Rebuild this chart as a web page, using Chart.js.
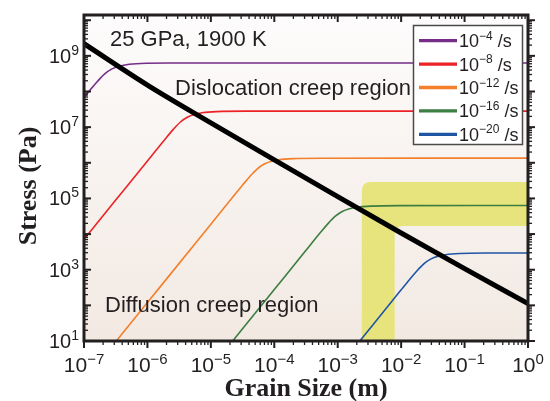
<!DOCTYPE html>
<html><head><meta charset="utf-8">
<script src="https://cdn.jsdelivr.net/npm/chart.js@4/dist/chart.umd.min.js"></script>
<style>html,body{margin:0;padding:0;background:#fff}</style>
</head><body>
<canvas id="c" width="550" height="401"></canvas>
<script>
// ---- data ----
const rateExps = ['−4', '−8', '−12', '−16', '−20'];   // strain rates 10^x /s

const purpleX = [1e-7, 1.259e-7, 1.637e-7, 2.123e-7, 2.761e-7, 3.589e-7, 4.656e-7, 7.87e-7, 2.244e-6, 1];
const purpleY = [6.76e7, 1.117e8, 1.936e8, 3.119e8, 4.305e8, 5.14e8, 5.65e8, 6.10e8, 6.29e8, 6.31e8];

const redX = [1e-7, 3.162e-7, 1e-6, 1.968e-6, 2.559e-6, 3.319e-6, 4.315e-6, 5.61e-6, 7.278e-6, 1.23e-5, 3.508e-5, 1];
const redY = [7.13e3, 8.98e4, 1.13e6, 4.99e6, 8.65e6, 1.393e7, 1.923e7, 2.296e7, 2.523e7, 2.725e7, 2.808e7, 2.818e7];

const orangeX = [2.5e-7, 1e-6, 1e-5, 3.17e-5, 4.12e-5, 5.35e-5, 6.95e-5, 9.03e-5, 1.172e-4, 1.978e-4, 5.65e-4, 1];
const orangeY = [5.66, 119.7, 1.897e4, 2.388e5, 4.14e5, 6.67e5, 9.20e5, 1.099e6, 1.208e6, 1.305e6, 1.345e6, 1.349e6];

const greenX = [1.8e-5, 1e-4, 3.162e-4, 5.37e-4, 6.98e-4, 9.06e-4, 1.178e-3, 1.531e-3, 1.986e-3, 3.353e-3, 9.57e-3, 1];
const greenY = [6.38, 278, 3.50e3, 1.117e4, 1.936e4, 3.119e4, 4.31e4, 5.14e4, 5.65e4, 6.10e4, 6.29e4, 6.31e4];

const blueX = [2e-3, 1e-2, 1.349e-2, 1.754e-2, 2.275e-2, 2.958e-2, 3.846e-2, 4.989e-2, 8.42e-2, 0.2404, 1];
const blueY = [7.87, 272, 522, 906, 1459, 2014, 2404, 2642, 2855, 2941, 2951];

const boundaryX = [1e-7, 1e-6, 1e-5, 1e-4, 1e-3, 1e-2, 1e-1, 1];
const boundaryY = [2.19e9, 1.514e8, 1.318e7, 1.202e6, 1.122e5, 1.072e4, 1072, 112];

const xTickExps = ['−7', '−6', '−5', '−4', '−3', '−2', '−1', '0'];
const xTickVals = [1e-7, 1e-6, 1e-5, 1e-4, 1e-3, 1e-2, 1e-1, 1];
const yTickExps = ['1', '3', '5', '7', '9'];
const yTickVals = [1e1, 1e3, 1e5, 1e7, 1e9];

const bandX = [2.4e-3, 7.9e-3];   // vertical band grain-size span
const bandY = [1.69e4, 2.9e5];    // horizontal band stress span

// ---- styles ----
const colors = ['#762d87', '#ec2227', '#f47f2a', '#3c7d42', '#1f56a4'];
const INK = '#231f20';
const SANS = '"Liberation Sans", Arial, sans-serif';
const SERIF = '"Liberation Serif", "Times New Roman", serif';

function pts(xs, ys) { return xs.map((v, i) => ({ x: v, y: ys[i] })); }

const series = [[purpleX, purpleY], [redX, redY], [orangeX, orangeY], [greenX, greenY], [blueX, blueY]];
const datasets = [{
  label: 'boundary', data: pts(boundaryX, boundaryY), borderColor: '#000', borderWidth: 5,
  cubicInterpolationMode: 'monotone', clip: 0
}];
series.forEach((s, i) => datasets.push({
  label: '10^' + rateExps[i] + ' /s', data: pts(s[0], s[1]), borderColor: colors[i],
  borderWidth: 1.6, cubicInterpolationMode: 'monotone', clip: 0
}));

function supText(ctx, base, exp, tail, x, y, bf, sf, rise, align) {
  ctx.font = bf; const wb = ctx.measureText(base).width;
  ctx.font = sf; const we = ctx.measureText(exp).width;
  ctx.font = bf; const wt = tail ? ctx.measureText(tail).width : 0;
  const tot = wb + we + wt;
  let x0 = x;
  if (align === 'center') x0 = x - tot / 2; else if (align === 'right') x0 = x - tot;
  ctx.textAlign = 'left'; ctx.textBaseline = 'alphabetic';
  ctx.font = bf; ctx.fillText(base, x0, y);
  ctx.font = sf; ctx.fillText(exp, x0 + wb, y - rise);
  if (tail) { ctx.font = bf; ctx.fillText(tail, x0 + wb + we, y); }
}

const deco = {
  id: 'deco',
  beforeDatasetsDraw(chart) {
    const { ctx, chartArea: a, scales: { x, y } } = chart;
    ctx.save();
    const g = ctx.createLinearGradient(0, a.top, 0, a.bottom);
    g.addColorStop(0, '#fdfcfc'); g.addColorStop(1, '#f2e9e2');
    ctx.fillStyle = g; ctx.fillRect(a.left, a.top, a.right - a.left, a.bottom - a.top);
    ctx.beginPath(); ctx.rect(a.left, a.top, a.right - a.left, a.bottom - a.top); ctx.clip();
    const x0 = x.getPixelForValue(bandX[0]), x1 = x.getPixelForValue(bandX[1]);
    const y0 = y.getPixelForValue(bandY[1]), y1 = y.getPixelForValue(bandY[0]);
    const r = 9, R = a.right + 20, B = a.bottom + 20;
    ctx.beginPath();
    ctx.moveTo(x0, B); ctx.lineTo(x0, y0 + r);
    ctx.quadraticCurveTo(x0, y0, x0 + r, y0);
    ctx.lineTo(R, y0); ctx.lineTo(R, y1); ctx.lineTo(x1 + r, y1);
    ctx.quadraticCurveTo(x1, y1, x1, y1 + r);
    ctx.lineTo(x1, B); ctx.closePath();
    ctx.fillStyle = '#e7e37d'; ctx.fill();
    ctx.restore();
  },
  afterDatasetsDraw(chart) {
    const { ctx, chartArea: a, scales: { x, y } } = chart;
    ctx.save();
    ctx.strokeStyle = INK; ctx.fillStyle = INK;
    const seg = (x1, y1, x2, y2, w) => { ctx.lineWidth = w; ctx.beginPath(); ctx.moveTo(x1, y1); ctx.lineTo(x2, y2); ctx.stroke(); };
    // x ticks: bottom outward, top inward
    for (let e = -7; e <= 0; e++) {
      for (let k = 1; k <= 9; k++) {
        const v = k * Math.pow(10, e); if (v > 1.0000001) break;
        const px = x.getPixelForValue(v);
        const L = k === 1 ? 7 : 4, w = k === 1 ? 2 : 1.3;
        seg(px, a.bottom, px, a.bottom + L, w);
        seg(px, a.top, px, a.top + L, w);
      }
    }
    // y ticks: left inward, right outward
    for (let e = 1; e <= 10; e++) {
      for (let k = 1; k <= 9; k++) {
        const v = k * Math.pow(10, e); if (v > y.max) break;
        const py = y.getPixelForValue(v);
        const L = k === 1 ? 7 : 4, w = k === 1 ? 2 : 1.3;
        seg(a.left, py, a.left + L, py, w);
        seg(a.right, py, a.right + L, py, w);
      }
    }
    // frame
    ctx.lineWidth = 3; ctx.strokeRect(a.left, a.top, a.right - a.left, a.bottom - a.top);
    // tick labels
    ctx.fillStyle = INK;
    xTickVals.forEach((v, i) => supText(ctx, '10', xTickExps[i], '', x.getPixelForValue(v), a.bottom + 31,
      '21px ' + SANS, '15px ' + SANS, 8.5, 'center'));
    yTickVals.forEach((v, i) => supText(ctx, '10', yTickExps[i], '', 79, y.getPixelForValue(v) + 7,
      '20px ' + SANS, '14px ' + SANS, 8, 'right'));
    // axis titles
    ctx.font = 'bold 26px ' + SERIF; ctx.textAlign = 'center'; ctx.textBaseline = 'alphabetic';
    ctx.fillText('Grain Size (m)', (a.left + a.right) / 2, 396);
    ctx.save(); ctx.translate(36, 186); ctx.rotate(-Math.PI / 2);
    ctx.fillText('Stress (Pa)', 0, 0); ctx.restore();
    // annotations
    ctx.font = '22px ' + SANS; ctx.textAlign = 'left'; ctx.fillStyle = INK;
    ctx.fillText('25 GPa, 1900 K', 110, 46);
    ctx.fillText('Dislocation creep region', 175, 95);
    ctx.fillText('Diffusion creep region', 105, 312);
    // legend
    ctx.fillStyle = '#fff'; ctx.fillRect(413.5, 25.5, 109, 119);
    ctx.strokeStyle = '#4a4a4a'; ctx.lineWidth = 1.5; ctx.strokeRect(413.5, 25.5, 109, 119);
    chart.data.datasets.slice(1).forEach((ds, i) => {
      const ly = 40.7 + i * 23.4;
      ctx.strokeStyle = ds.borderColor; ctx.lineWidth = 3.3;
      ctx.beginPath(); ctx.moveTo(419, ly); ctx.lineTo(457, ly); ctx.stroke();
      ctx.fillStyle = INK;
      supText(ctx, '10', rateExps[i], ' /s', 459, ly + 6.5, '18px ' + SANS, '12px ' + SANS, 7.5, 'left');
    });
    ctx.restore();
  }
};

new Chart(document.getElementById('c'), {
  type: 'line',
  data: { datasets },
  plugins: [deco],
  options: {
    responsive: false, animation: false, devicePixelRatio: 1,
    layout: { padding: { top: 15, right: 22, bottom: 0, left: 0 } },
    plugins: { legend: { display: false }, tooltip: { enabled: false } },
    elements: { point: { radius: 0 } },
    scales: {
      x: { type: 'logarithmic', min: 1e-7, max: 1, ticks: { display: false }, grid: { display: false },
           border: { display: false }, afterFit(s) { s.height = 60; } },
      y: { type: 'logarithmic', min: 10, max: 1.4e10, ticks: { display: false }, grid: { display: false },
           border: { display: false }, afterFit(s) { s.width = 84; } }
    }
  }
});
</script>
</body></html>
